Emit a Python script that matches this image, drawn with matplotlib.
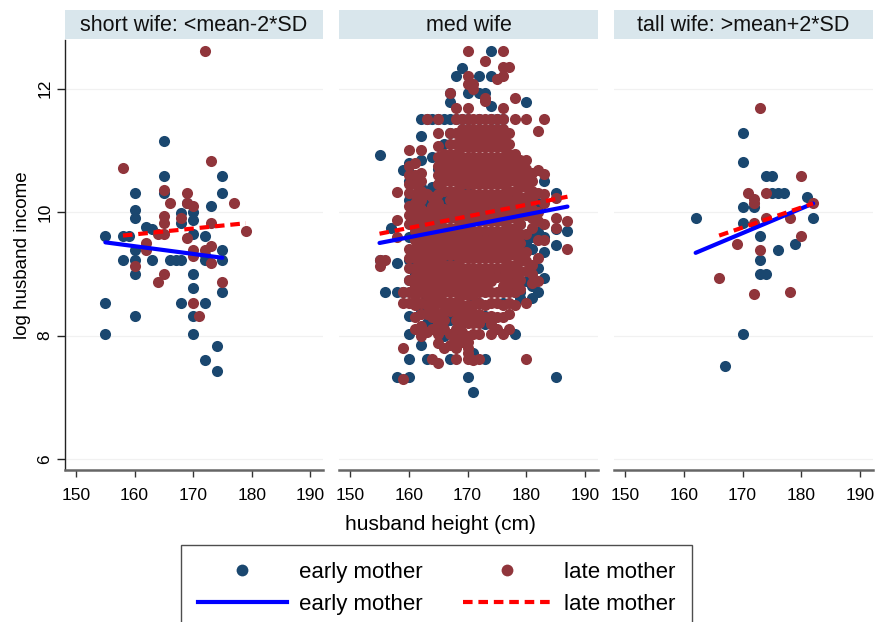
import matplotlib
matplotlib.use("Agg")
import matplotlib.pyplot as plt
from matplotlib.lines import Line2D
import numpy as np

# ------------------------------------------------------------------ data
panel_titles = ["short wife: <mean-2*SD", "med wife", "tall wife: >mean+2*SD"]
x_ticks = [150, 160, 170, 180, 190]
y_ticks = [6, 8, 10, 12]
x_label = "husband height (cm)"
y_label = "log husband income"
legend_labels = ["early mother", "early mother", "late mother", "late mother"]

# short wife panel
short_early_h = [155, 155, 155, 158, 158, 159, 160, 160, 160, 160, 160, 160, 160,
                 162, 163, 163, 165, 165, 165, 166, 167, 168, 168, 168, 168, 169,
                 170, 170, 170, 170, 170, 170, 170, 172, 172, 172, 172, 173, 174,
                 174, 175, 175, 175, 175, 175, 172]
short_early_inc = [9.62, 8.53, 8.02, 9.62, 9.22, 9.62, 10.31, 10.03, 9.91, 9.39, 9.22,
                   8.99, 8.31, 9.76, 9.72, 9.22, 11.15, 10.59, 10.31, 9.22, 9.22, 9.22,
                   9.99, 9.83, 8.53, 10.14, 10.01, 9.88, 9.64, 8.99, 8.77, 8.31, 8.02,
                   9.62, 9.22, 8.53, 7.61, 10.10, 7.83, 7.42, 10.59, 10.31, 9.39, 9.22,
                   8.70, 9.30]
short_late_h = [158, 160, 162, 162, 164, 164, 165, 165, 165, 165, 165, 166, 168, 169,
                169, 169, 170, 170, 170, 170, 171, 172, 172, 173, 173, 173, 173, 175,
                177, 179]
short_late_inc = [10.72, 9.12, 9.50, 9.39, 9.64, 8.86, 10.36, 9.94, 9.83, 9.64, 8.99,
                  10.14, 9.91, 10.31, 10.15, 9.58, 10.10, 9.39, 9.29, 8.53, 8.31, 12.61,
                  9.39, 10.83, 9.83, 9.45, 9.18, 8.86, 10.14, 9.69]

# med wife panel: height -> list of log incomes
med_early = {
    155: [10.92, 9.23], 156: [8.70], 157: [9.75], 158: [9.18, 8.70, 7.33],
    159: [10.69, 8.70],
    160: [10.80, 10.64, 10.50, 10.20, 9.60, 9.23, 8.90, 8.31, 8.03, 7.62, 7.33],
    161: [10.47, 9.00, 8.80], 162: [11.51, 11.23, 10.85, 10.40, 9.70, 8.42, 7.84],
    163: [11.51, 10.15, 9.30, 8.60, 8.20, 7.62], 164: [11.51, 10.90, 10.40, 9.90, 8.20],
    165: [11.51, 10.70, 9.55, 8.10], 166: [11.51, 11.10, 10.20, 8.20, 8.00],
    167: [11.93, 11.79, 11.51, 11.29, 9.20, 8.25, 7.62], 168: [12.20, 11.51, 10.90, 8.00],
    169: [12.34, 11.51, 9.80], 170: [11.93, 11.51, 10.40, 7.33],
    171: [8.53, 7.72, 7.09], 172: [12.21, 11.93, 11.51, 8.53],
    173: [11.93, 9.60, 8.31, 8.18, 7.62], 174: [12.61, 12.21, 11.72, 11.51, 10.10],
    175: [11.51, 9.00], 176: [11.51, 8.53], 177: [10.30, 9.00], 178: [8.70, 8.02],
    179: [9.80, 8.70, 8.60], 180: [11.78, 9.50, 8.88], 181: [9.60, 9.40, 8.80, 8.60],
    182: [10.15, 10.10, 9.67, 9.10, 8.70], 183: [10.50, 9.60, 9.35, 8.94],
    185: [10.31, 9.73, 9.47, 7.33], 187: [9.69],
}
med_late = {
    155: [9.12, 9.23], 156: [9.23], 158: [10.32, 9.88, 9.60],
    159: [8.70, 8.53, 7.80, 7.29],
    160: [11.01, 10.75, 10.60, 10.45, 10.31, 10.10, 9.95, 9.80, 9.40, 9.25, 9.10,
          8.90, 8.70, 8.53],
    161: [10.80, 10.60, 10.45, 10.30, 10.15, 10.00, 9.85, 9.70, 9.55, 9.40, 9.25,
          9.10, 8.95, 8.80, 8.65, 8.50, 8.30, 8.10],
    162: [11.01, 10.64, 10.50, 10.35, 10.20, 10.05, 9.90, 9.75, 9.60, 9.45, 9.30,
          9.15, 9.00, 8.85, 8.70, 8.53, 8.35, 8.15, 8.00],
    163: [11.51, 10.30, 10.00, 9.85, 9.70, 9.55, 9.40, 9.25, 9.10, 8.95,
          8.80, 8.65, 8.50, 8.35, 8.05],
    164: [10.25, 10.10, 9.95, 9.80, 9.65, 9.50, 9.35, 9.20, 9.05, 8.90,
          8.75, 8.60, 8.45, 8.30, 8.10, 7.62],
    165: [11.51, 11.29, 11.07, 10.90, 10.75, 10.60, 10.45, 10.30, 10.15, 10.00,
          9.85, 9.70, 9.55, 9.40, 9.25, 9.10, 8.95, 8.80, 8.65, 8.53, 8.35, 8.20,
          8.03, 7.88, 7.55],
    166: [10.95, 10.80, 10.65, 10.50, 10.35, 10.05, 9.90, 9.75, 9.60, 9.45,
          9.30, 9.15, 9.00, 8.85, 8.70, 8.55, 8.40, 8.25, 8.10, 7.80],
    167: [11.93, 11.29, 11.10, 10.95, 10.80, 10.65, 10.50, 10.35, 10.20, 10.05,
          9.90, 9.75, 9.60, 9.45, 9.30, 9.15, 9.00, 8.85, 8.70, 8.55, 8.40,
          8.03, 7.85],
    168: [11.69, 11.51, 11.29, 11.10, 10.95, 10.80, 10.65, 10.50, 10.35, 10.20,
          10.05, 9.90, 9.75, 9.60, 9.45, 9.30, 9.15, 9.00, 8.85, 8.70, 8.55, 8.40,
          8.25, 8.10, 7.95, 7.80, 7.62],
    169: [11.51, 11.35, 11.20, 11.05, 10.90, 10.75, 10.60, 10.45, 10.30, 10.15,
          10.00, 9.85, 9.70, 9.55, 9.40, 9.25, 9.10, 8.95, 8.80, 8.65, 8.50, 8.35,
          8.20, 8.05, 7.90],
    170: [12.61, 12.20, 12.07, 11.69, 11.51, 11.35, 11.20, 11.05, 10.90, 10.75,
          10.60, 10.45, 10.30, 10.15, 10.00, 9.85, 9.70, 9.55, 9.40, 9.25, 9.10,
          8.95, 8.80, 8.65, 8.50, 8.35, 8.20, 8.00, 7.90, 7.80, 7.72, 7.62],
    171: [12.07, 12.00, 11.51, 11.35, 11.20, 11.05, 10.90, 10.75, 10.60, 10.45,
          10.30, 10.15, 10.00, 9.85, 9.70, 9.55, 9.40, 9.25, 9.10, 8.95, 8.80,
          8.65, 8.50, 8.35, 8.20, 8.02, 7.60],
    172: [11.51, 11.35, 11.20, 11.05, 10.90, 10.75, 10.60, 10.45, 10.30, 10.15,
          10.00, 9.85, 9.70, 9.55, 9.40, 9.25, 9.10, 8.95, 8.80, 8.70, 8.53, 8.35,
          8.20, 8.03, 7.62],
    173: [12.45, 11.85, 11.80, 11.51, 11.35, 11.20, 11.05, 10.90, 10.75, 10.60,
          10.45, 10.30, 10.15, 10.00, 9.85, 9.70, 9.55, 9.40, 9.25, 9.10, 8.95,
          8.80, 8.70, 8.50, 8.30],
    174: [11.51, 11.35, 11.20, 11.05, 10.90, 10.75, 10.60, 10.45, 10.30, 10.15,
          10.00, 9.85, 9.70, 9.55, 9.40, 9.25, 9.10, 8.95, 8.88, 8.70, 8.53, 8.31,
          8.18, 8.02],
    175: [12.15, 11.51, 11.35, 11.20, 11.05, 10.90, 10.75, 10.60, 10.45, 10.30,
          10.15, 10.00, 9.85, 9.70, 9.55, 9.40, 9.25, 9.10, 8.95, 8.70, 8.53, 8.30,
          8.10],
    176: [12.61, 12.35, 12.21, 11.69, 11.51, 11.35, 11.20, 11.05, 10.90, 10.75,
          10.60, 10.45, 10.30, 10.15, 10.00, 9.85, 9.70, 9.55, 9.40, 9.25, 9.10,
          8.95, 8.80, 8.70, 8.50, 8.30, 8.02],
    177: [12.35, 11.29, 11.10, 10.95, 10.80, 10.65, 10.50, 10.35, 10.20, 10.05,
          9.90, 9.75, 9.60, 9.45, 9.30, 9.15, 9.00, 8.85, 8.70, 8.53, 8.35, 8.10],
    178: [11.85, 11.51, 10.95, 10.80, 10.65, 10.50, 10.35, 10.20, 10.05, 9.90,
          9.75, 9.60, 9.45, 9.30, 9.15, 9.00, 8.85, 8.70, 8.50],
    179: [10.85, 10.70, 10.55, 10.40, 10.25, 10.10, 9.95, 9.80, 9.65, 9.50, 9.35,
          9.20, 9.05, 8.90, 8.75],
    180: [11.51, 10.85, 10.70, 10.55, 10.40, 10.25, 10.10, 9.95, 9.65, 9.35,
          9.20, 9.05, 8.53, 7.62],
    181: [10.64, 10.50, 10.35, 10.20, 10.05, 9.90, 9.75, 9.15, 9.00, 8.85],
    182: [11.31, 10.69, 10.31, 10.00, 9.85, 9.55, 9.25, 8.88],
    183: [11.51, 10.61, 10.30, 10.15, 9.80, 9.55],
    185: [10.23, 9.90, 9.75],
    187: [9.86, 9.41],
}

# tall wife panel
tall_early_h = [162, 167, 170, 170, 170, 170, 170, 172, 173, 173, 173, 174, 174, 175,
                175, 176, 177, 176, 179, 181, 182]
tall_early_inc = [9.91, 7.50, 11.29, 10.82, 10.09, 9.82, 8.02, 10.09, 9.62, 9.22, 8.99,
                  8.99, 10.59, 10.59, 10.31, 10.31, 10.31, 9.39, 9.48, 10.25, 9.91]
tall_late_h = [166, 169, 171, 172, 172, 172, 173, 173, 172, 174, 174, 178, 178, 180,
               180, 182]
tall_late_inc = [8.94, 9.48, 10.31, 10.21, 10.14, 9.82, 11.69, 9.39, 8.68, 10.31, 9.91,
                 8.70, 9.91, 10.59, 9.62, 10.14]

# fitted lines (end points)
fit_early_h = [[155, 175], [155, 187], [162, 182]]
fit_early_inc = [[9.51, 9.26], [9.50, 10.09], [9.34, 10.14]]
fit_late_h = [[158, 179], [155, 187], [166, 182]]
fit_late_inc = [[9.62, 9.82], [9.65, 10.25], [9.62, 10.14]]


def expand(d):
    hs, ys = [], []
    for h, vals in d.items():
        hs += [h] * len(vals)
        ys += vals
    return hs, ys


med_early_h, med_early_inc = expand(med_early)
med_late_h, med_late_inc = expand(med_late)

early_h = [short_early_h, med_early_h, tall_early_h]
early_inc = [short_early_inc, med_early_inc, tall_early_inc]
late_h = [short_late_h, med_late_h, tall_late_h]
late_inc = [short_late_inc, med_late_inc, tall_late_inc]

# ------------------------------------------------------------------ style
NAVY = "#1a476f"
MAROON = "#90353b"
STRIP = "#d9e6ec"
W, H = 880, 622
REG = ["Liberation Sans", "DejaVu Sans"]

fig = plt.figure(figsize=(W / 100, H / 100), dpi=100)
fig.patch.set_facecolor("white")

panels_px = [(65, 323), (339, 598), (614, 873)]
top_px, bot_px = 40, 470
strip_top, strip_bot = 10, 39

ms = 64
DASH = (2.3, 1.4)
for i, (x0, x1) in enumerate(panels_px):
    ax = fig.add_axes([x0 / W, 1 - bot_px / H, (x1 - x0) / W, (bot_px - top_px) / H])
    ax.set_xlim(148.1, 192.2)
    ax.set_ylim(5.82, 12.79)
    for yv in y_ticks:
        ax.axhline(yv, color="#f1f1f1", lw=0.9, zorder=0)
    ax.scatter(early_h[i], early_inc[i], s=ms, color=NAVY, linewidths=0, zorder=2)
    ax.scatter(late_h[i], late_inc[i], s=ms, color=MAROON, linewidths=0, zorder=3)
    ax.plot(fit_early_h[i], fit_early_inc[i], color="#0000ff", lw=3.0,
            solid_capstyle="round", zorder=4)
    ax.plot(fit_late_h[i], fit_late_inc[i], color="#ff0000", lw=3.0,
            dashes=DASH, zorder=5)
    ax.set_xticks(x_ticks)
    ax.set_xticklabels([str(t) for t in x_ticks], family=REG, fontsize=12.5)
    ax.tick_params(axis="x", direction="out", length=5, width=1, color="#333333",
                   pad=8)
    for s in ["top", "right"]:
        ax.spines[s].set_visible(False)
    ax.spines["bottom"].set_color("#666666")
    ax.spines["bottom"].set_linewidth(1.8)
    if i == 0:
        ax.set_yticks(y_ticks)
        ax.set_yticklabels([str(t) for t in y_ticks], family=REG, fontsize=12.5,
                           rotation=90, va="center")
        ax.tick_params(axis="y", direction="out", length=6, width=1, color="#222222",
                       pad=3)
        ax.spines["left"].set_color("#222222")
        ax.spines["left"].set_linewidth(1.0)
        ax.set_ylabel(y_label, family=REG, fontsize=13.5, labelpad=5)
    else:
        ax.set_yticks([])
        ax.spines["left"].set_visible(False)

    # strip header
    sax = fig.add_axes([x0 / W, 1 - strip_bot / H, (x1 - x0) / W,
                        (strip_bot - strip_top) / H])
    sax.set_facecolor(STRIP)
    sax.set_xticks([])
    sax.set_yticks([])
    for s in sax.spines.values():
        s.set_visible(False)
    sax.text(0.5, 0.45, panel_titles[i], ha="center", va="center", family=REG,
             fontsize=15.5, color="#111111", transform=sax.transAxes)

fig.text(0.5, 1 - 525 / H, x_label, ha="center", va="center", family=REG,
         fontsize=15)

handles = [
    Line2D([], [], marker="o", ls="none", color=NAVY, markersize=8.5, mew=0),
    Line2D([], [], color="#0000ff", lw=3.0),
    Line2D([], [], marker="o", ls="none", color=MAROON, markersize=8.5, mew=0),
    Line2D([], [], color="#ff0000", lw=3.0, dashes=DASH),
]
leg = fig.legend(handles, legend_labels, ncol=2, loc="upper center",
                 bbox_to_anchor=(0.496, 1 - 545 / H), borderaxespad=0,
                 frameon=True, fancybox=False, edgecolor="#222222",
                 handlelength=4.0, handletextpad=0.55, columnspacing=1.8,
                 labelspacing=0.5, borderpad=0.75,
                 prop={"family": REG, "size": 16})
leg.get_frame().set_linewidth(1.0)

fig.savefig("out.png", dpi=100, facecolor="white")
